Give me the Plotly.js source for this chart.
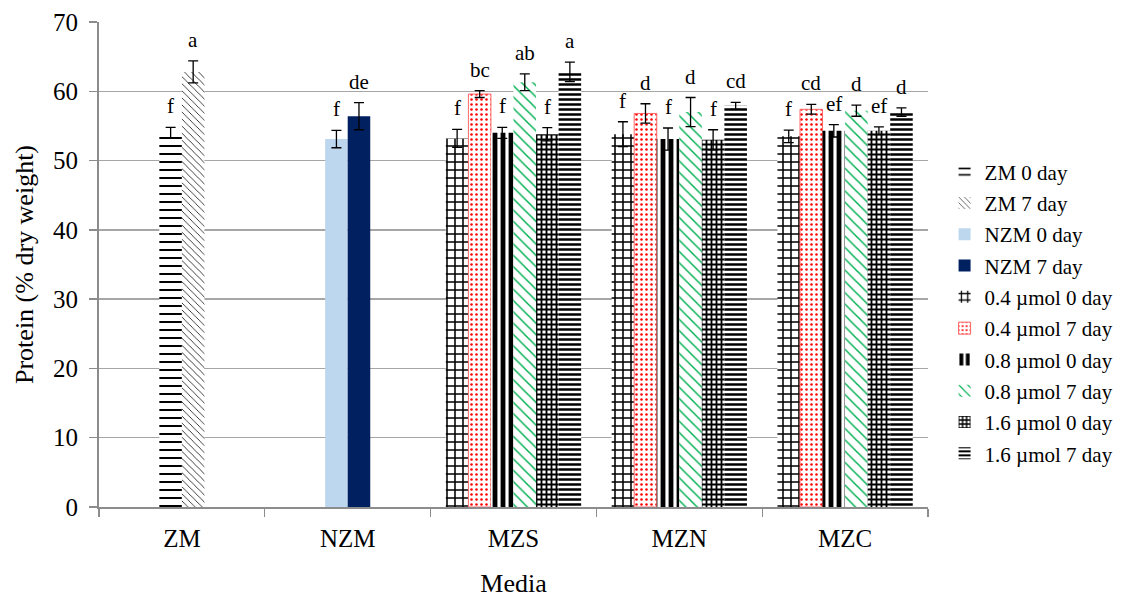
<!DOCTYPE html>
<html>
<head>
<meta charset="utf-8">
<script src="https://cdn.plot.ly/plotly-3.0.1.min.js"></script>
<style>
  html, body { margin: 0; padding: 0; background: #fff; }
  #chart { width: 1131px; height: 598px; }
</style>
</head>
<body>
<div id="chart"></div>
<script>
// Media on the x axis
const categories = ['ZM', 'NZM', 'MZS', 'MZN', 'MZC'];
const zeolitePair = ['ZM'];
const nanoPair = ['NZM'];
const treatedMedia = ['MZS', 'MZN', 'MZC'];

// Protein (% dry weight): mean, error, significance letter
const zm0Value = [54.0];  const zm0Error = [0.8];  const zm0Letter = ['f'];
const zm7Value = [62.8];  const zm7Error = [1.6];  const zm7Letter = ['a'];
const nzm0Value = [53.1]; const nzm0Error = [1.25]; const nzm0Letter = ['f'];
const nzm7Value = [56.4]; const nzm7Error = [1.95]; const nzm7Letter = ['de'];

const u04d0Value = [53.2, 53.8, 53.5]; const u04d0Error = [1.3, 1.8, 0.9];  const u04d0Letter = ['f', 'f', 'f'];
const u04d7Value = [59.6, 56.8, 57.4]; const u04d7Error = [0.5, 1.4, 0.7];  const u04d7Letter = ['bc', 'd', 'cd'];
const u08d0Value = [54.0, 53.1, 54.3]; const u08d0Error = [0.8, 1.6, 0.9];  const u08d0Letter = ['f', 'f', 'ef'];
const u08d7Value = [61.3, 57.0, 57.2]; const u08d7Error = [1.2, 2.1, 0.8];  const u08d7Letter = ['ab', 'd', 'd'];
const u16d0Value = [53.8, 53.0, 54.3]; const u16d0Error = [0.95, 1.45, 0.55]; const u16d0Letter = ['f', 'f', 'ef'];
const u16d7Value = [62.8, 57.9, 57.0]; const u16d7Error = [1.4, 0.5, 0.6];  const u16d7Letter = ['a', 'cd', 'd'];

const seriesNames = [
  'ZM 0 day', 'ZM 7 day', 'NZM 0 day', 'NZM 7 day',
  '0.4 \u00b5mol 0 day', '0.4 \u00b5mol 7 day',
  '0.8 \u00b5mol 0 day', '0.8 \u00b5mol 7 day',
  '1.6 \u00b5mol 0 day', '1.6 \u00b5mol 7 day'
];

const serif = '"Liberation Serif", "Times New Roman", serif';
const barW = 0.136; // bar width in category units

// fill styles per series
const styles = [
  { shape: '-',  fg: '#000', size: 8, solidity: 0.25 },
  { shape: '\\', fg: '#000', size: 5, solidity: 0.15 },
  { solid: '#BDD7EE' },
  { solid: '#002060' },
  { shape: '+',  fg: '#000', size: 8, solidity: 0.35 },
  { shape: '.',  fg: '#FF0000', size: 5, solidity: 0.2, line: '#FF6666' },
  { shape: '|',  fg: '#000', size: 8, solidity: 0.6 },
  { shape: '\\', fg: '#00B050', size: 8, solidity: 0.18 },
  { shape: '+',  fg: '#000', size: 5, solidity: 0.6 },
  { shape: '-',  fg: '#000', size: 5, solidity: 0.5 }
];

const groups = [
  { cats: zeolitePair, slots: 2, members: [[zm0Value, zm0Error, zm0Letter], [zm7Value, zm7Error, zm7Letter]] },
  { cats: nanoPair, slots: 2, members: [[nzm0Value, nzm0Error, nzm0Letter], [nzm7Value, nzm7Error, nzm7Letter]] },
  { cats: treatedMedia, slots: 6, members: [
    [u04d0Value, u04d0Error, u04d0Letter], [u04d7Value, u04d7Error, u04d7Letter],
    [u08d0Value, u08d0Error, u08d0Letter], [u08d7Value, u08d7Error, u08d7Letter],
    [u16d0Value, u16d0Error, u16d0Letter], [u16d7Value, u16d7Error, u16d7Letter]
  ] }
];

const traces = [];
const annotations = [];
let s = 0;
groups.forEach(g => {
  g.members.forEach((m, k) => {
    const [vals, errs, letters] = m;
    const st = styles[s];
    const off = (k - g.slots / 2) * barW;
    const marker = {};
    if (st.solid) {
      marker.color = st.solid;
    } else {
      marker.color = '#fff';
      marker.pattern = { shape: st.shape, fgcolor: st.fg, bgcolor: '#fff', size: st.size, solidity: st.solidity, fillmode: 'replace' };
    }
    marker.line = st.line ? { color: st.line, width: 1 } : { width: 0 };
    traces.push({
      type: 'bar',
      name: seriesNames[s],
      legendgroup: 'g' + s,
      x: g.cats,
      y: vals,
      width: barW,
      offset: off,
      marker: marker,
      error_y: { type: 'data', array: errs, visible: true, color: '#000', thickness: 1.3, width: 5 },
      hoverinfo: 'x+y+name'
    });
    g.cats.forEach((c, i) => {
      annotations.push({
        x: categories.indexOf(c) + off + barW / 2,
        y: vals[i] + errs[i],
        xref: 'x', yref: 'y',
        text: letters[i],
        showarrow: false,
        yanchor: 'bottom',
        yshift: 7,
        font: { family: serif, size: 21, color: '#000' }
      });
    });
    s++;
  });
});

const layout = {
  width: 1131, height: 598,
  margin: { l: 99, r: 201, t: 22, b: 91 },
  paper_bgcolor: '#fff', plot_bgcolor: '#fff',
  barmode: 'overlay',
  showlegend: true,
  legend: {
    x: 1.02, xanchor: 'left', y: 0.40, yanchor: 'middle',
    font: { family: serif, size: 21, color: '#000' },
    traceorder: 'grouped', tracegroupgap: 1, itemwidth: 30
  },
  xaxis: {
    type: 'category',
    categoryorder: 'array', categoryarray: categories,
    range: [-0.5, 4.5],
    tickson: 'boundaries',
    ticks: 'outside', ticklen: 8, tickcolor: '#8c8c8c', tickwidth: 1.3,
    showline: true, linecolor: '#8c8c8c', linewidth: 2,
    showgrid: false,
    tickfont: { family: serif, size: 25, color: '#000' },
    ticklabelstandoff: 8,
    title: { text: 'Media', font: { family: serif, size: 26, color: '#000' }, standoff: 34 }
  },
  yaxis: {
    range: [0, 70], dtick: 10,
    ticks: 'outside', ticklen: 8, tickcolor: '#8c8c8c', tickwidth: 1.3,
    showline: true, linecolor: '#8c8c8c', linewidth: 2,
    showgrid: true, gridcolor: '#a6a6a6', gridwidth: 1.3,
    zeroline: false,
    tickfont: { family: serif, size: 25, color: '#000' },
    ticklabelstandoff: 6,
    title: { text: 'Protein (% dry weight)', font: { family: serif, size: 26, color: '#000' }, standoff: 12 }
  },
  annotations: annotations
};

Plotly.newPlot('chart', traces, layout, { displayModeBar: false, staticPlot: true });
</script>
</body>
</html>
